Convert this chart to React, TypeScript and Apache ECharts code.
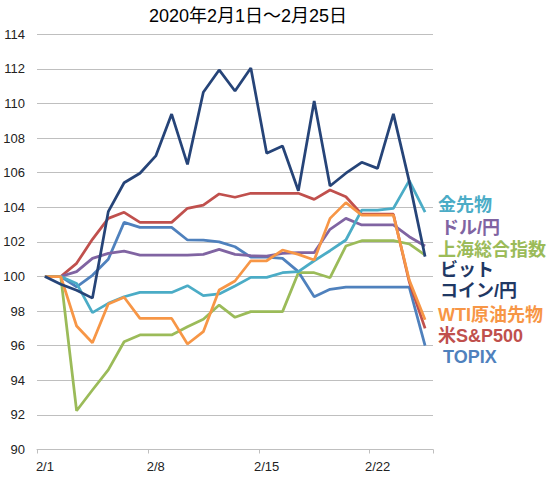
import { useEffect, useRef } from 'react'
import * as echarts from 'echarts'

const dates = [
  '2/1', '2/2', '2/3', '2/4', '2/5', '2/6', '2/7', '2/8', '2/9', '2/10', '2/11', '2/12', '2/13',
  '2/14', '2/15', '2/16', '2/17', '2/18', '2/19', '2/20', '2/21', '2/22', '2/23', '2/24', '2/25',
]

const gold = [100, 100, 99.6, 97.91, 98.45, 98.83, 99.08, 99.08, 99.08, 99.47, 98.89, 98.99, 99.45, 99.95, 99.95, 100.22, 100.28, 100.91, 101.49, 102.11, 103.84, 103.84, 103.94, 105.54, 103.72]
const usdJpy = [100, 100, 100.28, 101.05, 101.34, 101.47, 101.24, 101.24, 101.24, 101.24, 101.28, 101.57, 101.28, 101.2, 101.18, 101.34, 101.38, 101.38, 102.73, 103.36, 102.98, 102.98, 102.98, 102.3, 101.76]
const shanghai = [100, 100, 92.24, 93.44, 94.6, 96.23, 96.62, 96.62, 96.62, 97.1, 97.53, 98.35, 97.64, 97.97, 97.97, 97.97, 100.22, 100.22, 99.93, 101.76, 102.07, 102.07, 102.07, 101.88, 101.24]
const bitcoin = [100, 99.55, 99.2, 98.75, 103.75, 105.42, 105.97, 106.97, 109.39, 106.48, 110.65, 111.94, 110.72, 112.05, 107.12, 107.54, 104.96, 110.14, 105.23, 105.97, 106.6, 106.25, 109.4, 105.5, 101.15]
const wti = [100, 100, 97.14, 96.17, 98.41, 98.8, 97.58, 97.58, 97.58, 96.1, 96.81, 99.22, 99.74, 100.91, 100.91, 101.53, 101.28, 100.95, 103.36, 104.27, 103.55, 103.55, 103.55, 99.8, 97.5]
const sp500 = [100, 100, 100.76, 102.15, 103.36, 103.71, 103.13, 103.13, 103.13, 103.94, 104.13, 104.77, 104.58, 104.81, 104.81, 104.81, 104.81, 104.46, 105.0, 104.61, 103.6, 103.6, 103.6, 99.7, 97.0]
const topix = [100, 100, 99.4, 100.07, 101.0, 103.13, 102.84, 102.84, 102.84, 102.11, 102.1, 102.0, 101.72, 101.12, 101.12, 101.05, 100.28, 98.83, 99.26, 99.38, 99.38, 99.38, 99.38, 99.38, 96.0]

const labelNames = ['金先物', 'ドル/円', '上海総合指数', 'ビット', 'コイン/円', 'WTI原油先物', '米S&P500', 'TOPIX']

const FONT = "Arial, 'Liberation Sans', 'Noto Sans CJK JP', sans-serif"
const GRID_COLOR = '#bfbfbf'

export default function App() {
  const chartRef = useRef<HTMLDivElement>(null)

  useEffect(() => {
    if (!chartRef.current) return
    const chart = echarts.init(chartRef.current, undefined, { renderer: 'svg' })

    const line = (name: string, data: number[], color: string) => ({
      name,
      type: 'line',
      data,
      symbol: 'none',
      lineStyle: { color, width: 2.75 },
      itemStyle: { color },
    })

    // label placement beside the plot (right side)
    const labelStyle = [
      { x: 438, y: 205, color: '#4BACC6' },
      { x: 441, y: 228, color: '#8064A2' },
      { x: 438, y: 250, color: '#9BBB59' },
      { x: 440, y: 270, color: '#1F3864' },
      { x: 440, y: 291, color: '#1F3864' },
      { x: 438, y: 315, color: '#F79646' },
      { x: 438, y: 336, color: '#C0504D' },
      { x: 443, y: 357, color: '#4F81BD' },
    ]

    chart.setOption({
      animation: false,
      title: {
        text: '2020年2月1日～2月25日',
        left: 248,
        top: 7,
        padding: 0,
        textAlign: 'center',
        textStyle: { fontFamily: FONT, fontSize: 18, fontWeight: 'normal', color: '#000' },
      },
      grid: { left: 37, right: 117, top: 34.3, bottom: 30.5 },
      xAxis: {
        type: 'category',
        data: dates,
        boundaryGap: true,
        axisLine: { lineStyle: { color: GRID_COLOR, width: 1 } },
        axisTick: { show: true, interval: 6, length: 4, lineStyle: { color: GRID_COLOR } },
        axisLabel: { interval: 6, margin: 10, color: '#222', fontFamily: FONT, fontSize: 13 },
        splitLine: { show: false },
      },
      yAxis: {
        type: 'value',
        min: 90,
        max: 114,
        interval: 2,
        axisLine: { show: false },
        axisTick: { show: false },
        axisLabel: { margin: 12, color: '#222', fontFamily: FONT, fontSize: 13 },
        splitLine: { lineStyle: { color: GRID_COLOR, width: 1 } },
      },
      series: [
        line('TOPIX', topix, '#4F81BD'),
        line('米S&P500', sp500, '#C0504D'),
        line('ドル/円', usdJpy, '#8064A2'),
        line('上海総合指数', shanghai, '#9BBB59'),
        line('金先物', gold, '#4BACC6'),
        line('WTI原油先物', wti, '#F79646'),
        line('ビットコイン/円', bitcoin, '#264478'),
      ],
      graphic: labelNames.map((text, i) => ({
        type: 'text',
        x: labelStyle[i].x,
        y: labelStyle[i].y,
        style: {
          text,
          fill: labelStyle[i].color,
          font: `bold 18px ${FONT}`,
          verticalAlign: 'middle',
          align: 'left',
        },
      })),
    })

    return () => chart.dispose()
  }, [])

  return (
    <div
      ref={chartRef}
      style={{ position: 'absolute', left: 0, top: 0, width: 550, height: 480, background: '#fff' }}
    />
  )
}
